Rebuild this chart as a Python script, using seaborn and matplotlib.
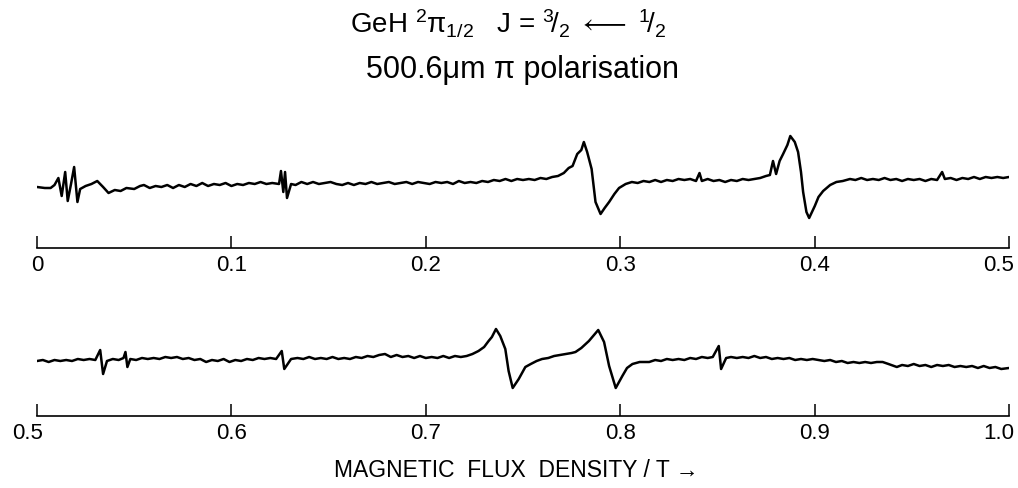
import matplotlib
matplotlib.use("Agg")
import matplotlib.pyplot as plt
import matplotlib.transforms as mtransforms
import seaborn as sns
import numpy as np

# trace 1: 0 - 0.5 T (signal in arbitrary units, baseline ~0)
top_field = [
    0.000, 0.004, 0.007, 0.009, 0.011, 0.0127, 0.0145, 0.0158, 0.0175, 0.0191,
    0.0208, 0.0222, 0.025, 0.028, 0.031, 0.034, 0.0368, 0.040, 0.043, 0.046,
    0.050, 0.053, 0.055, 0.058, 0.061, 0.064, 0.067, 0.070, 0.073, 0.076,
    0.079, 0.082, 0.085, 0.088, 0.091, 0.094, 0.097, 0.100, 0.103, 0.106,
    0.109, 0.112, 0.115, 0.118, 0.121, 0.1245, 0.1255, 0.1267, 0.1276, 0.1286,
    0.1307, 0.133, 0.136, 0.139, 0.142, 0.145, 0.148, 0.151, 0.154, 0.157,
    0.160, 0.163, 0.166, 0.169, 0.172, 0.175, 0.178, 0.181, 0.184, 0.187,
    0.190, 0.193, 0.196, 0.199, 0.202, 0.205, 0.208, 0.211, 0.214, 0.217,
    0.220, 0.223, 0.226, 0.229, 0.232, 0.235, 0.238, 0.241, 0.244, 0.247,
    0.250, 0.253, 0.256, 0.259, 0.262, 0.265, 0.268, 0.271, 0.2735, 0.2755,
    0.2779, 0.2800, 0.2813, 0.283, 0.2853, 0.2873, 0.2899, 0.292, 0.2943, 0.297,
    0.2994, 0.3028, 0.306, 0.309, 0.312, 0.315, 0.318, 0.321, 0.324, 0.327,
    0.330, 0.333, 0.336, 0.339, 0.3408, 0.342, 0.345, 0.348, 0.351, 0.354,
    0.357, 0.360, 0.363, 0.366, 0.369, 0.372, 0.375, 0.377, 0.3786, 0.3802,
    0.382, 0.3838, 0.3860, 0.3875, 0.3898, 0.3915, 0.393, 0.3941, 0.3958, 0.3972,
    0.4001, 0.402, 0.4044, 0.408, 0.4112, 0.4145, 0.4182, 0.421, 0.424, 0.427,
    0.430, 0.433, 0.436, 0.439, 0.442, 0.445, 0.448, 0.451, 0.454, 0.457,
    0.460, 0.463, 0.4656, 0.467, 0.470, 0.473, 0.476, 0.479, 0.482, 0.485,
    0.488, 0.491, 0.494, 0.497, 0.500,
]
top_signal = [
    0, -1, -1, 2, 9, -9, 15, -14, 3, 20,
    -15, -2, 1, 3, 6, 0, -6, -3, -4, -1,
    -2, 1, 2, -1, 1, 0, 2, -1, 2, 0,
    3, 1, 4, 1, 3, 2, 4, 1, 3, 2,
    4, 3, 5, 3, 4, 3, 16, -5, 15, -11,
    3, 2, 5, 3, 5, 3, 4, 5, 3, 2,
    4, 2, 4, 3, 5, 3, 4, 5, 3, 4,
    5, 3, 5, 4, 3, 5, 4, 5, 3, 6,
    4, 5, 4, 6, 5, 7, 6, 8, 6, 8,
    7, 8, 7, 9, 8, 10, 11, 14, 19, 21,
    33, 37, 45, 35, 18, -15, -27, -21, -15, -7,
    -1, 3, 5, 4, 6, 5, 7, 5, 7, 6,
    8, 7, 8, 6, 14, 6, 8, 6, 7, 5,
    7, 6, 8, 7, 8, 9, 11, 12, 26, 13,
    26, 33, 42, 51, 45, 35, 15, -5, -25, -31,
    -19, -10, -4, 2, 5, 6, 8, 7, 9, 7,
    8, 7, 9, 7, 8, 6, 8, 7, 8, 6,
    8, 7, 15, 8, 9, 7, 9, 8, 10, 8,
    10, 9, 10, 9, 10,
]

# trace 2: 0.5 - 1.0 T
bottom_field = [
    0.500, 0.503, 0.506, 0.509, 0.512, 0.515, 0.518, 0.521, 0.524, 0.527,
    0.530, 0.5325, 0.534, 0.536, 0.539, 0.542, 0.5445, 0.5455, 0.5465, 0.548,
    0.551, 0.554, 0.557, 0.560, 0.563, 0.566, 0.569, 0.572, 0.575, 0.578,
    0.581, 0.584, 0.587, 0.590, 0.593, 0.596, 0.599, 0.602, 0.605, 0.608,
    0.611, 0.614, 0.617, 0.620, 0.623, 0.6259, 0.6272, 0.6307, 0.634, 0.637,
    0.640, 0.643, 0.646, 0.649, 0.652, 0.655, 0.658, 0.661, 0.664, 0.667,
    0.670, 0.673, 0.676, 0.679, 0.682, 0.685, 0.688, 0.691, 0.694, 0.697,
    0.700, 0.703, 0.706, 0.709, 0.712, 0.715, 0.718, 0.721, 0.724, 0.7271,
    0.730, 0.7323, 0.734, 0.7361, 0.7383, 0.7409, 0.7426, 0.7447, 0.7478, 0.7512,
    0.754, 0.757, 0.7598, 0.763, 0.766, 0.769, 0.772, 0.775, 0.777, 0.780,
    0.7839, 0.7865, 0.7887, 0.7917, 0.7943, 0.7977, 0.8011, 0.8035, 0.8063, 0.810,
    0.8149, 0.818, 0.821, 0.824, 0.827, 0.830, 0.833, 0.836, 0.839, 0.842,
    0.845, 0.8476, 0.8507, 0.8519, 0.8545, 0.857, 0.860, 0.863, 0.866, 0.869,
    0.872, 0.875, 0.878, 0.881, 0.884, 0.887, 0.890, 0.893, 0.896, 0.899,
    0.902, 0.905, 0.908, 0.911, 0.914, 0.917, 0.920, 0.923, 0.926, 0.929,
    0.932, 0.935, 0.938, 0.9423, 0.945, 0.948, 0.951, 0.954, 0.957, 0.960,
    0.963, 0.966, 0.969, 0.972, 0.975, 0.978, 0.981, 0.984, 0.987, 0.990,
    0.993, 0.996, 1.000,
]
bottom_signal = [
    0, 1, -1, 1, 0, 1, 0, 2, 1, 2,
    1, 11, -13, 0, 2, 1, 3, 9, -6, 2,
    1, 3, 2, 3, 2, 4, 3, 4, 2, 3,
    1, 2, -1, 1, 0, 2, -1, 1, 0, 2,
    1, 3, 2, 3, 2, 10, -8, 2, 3, 2,
    4, 2, 3, 2, 4, 2, 3, 2, 4, 3,
    5, 4, 6, 7, 4, 6, 4, 5, 3, 5,
    3, 4, 3, 5, 3, 5, 4, 5, 7, 10,
    14, 20, 24, 32, 25, 12, -10, -27, -18, -6,
    -3, 0, 2, 3, 5, 6, 7, 8, 9, 13,
    20, 26, 31, 19, -5, -27, -15, -7, -3, -1,
    -1, 1, 0, 2, 1, 2, 1, 3, 2, 4,
    3, 4, 15, -8, 3, 4, 3, 4, 3, 5,
    3, 4, 2, 3, 2, 3, 1, 2, 1, 2,
    1, 0, 1, -1, 0, -2, -1, -2, -1, -2,
    -1, -1, -3, -6, -4, -5, -3, -5, -4, -6,
    -4, -5, -4, -6, -5, -6, -5, -7, -5, -7,
    -6, -8, -7,
]

top_ticks = [0.0, 0.1, 0.2, 0.3, 0.4, 0.5]
top_labels = ["0", "0.1", "0.2", "0.3", "0.4", "0.5"]
bottom_ticks = [0.5, 0.6, 0.7, 0.8, 0.9, 1.0]
bottom_labels = ["0.5", "0.6", "0.7", "0.8", "0.9", "1.0"]

sns.set_theme(style="white")
plt.rcParams["font.family"] = ["Liberation Sans", "DejaVu Sans"]
plt.rcParams["mathtext.fontset"] = "custom"
plt.rcParams["mathtext.rm"] = "Liberation Sans"
plt.rcParams["mathtext.it"] = "Liberation Sans:italic"
plt.rcParams["mathtext.fallback"] = "stixsans"

W, H = 1018, 489
fig = plt.figure(figsize=(W / 100, H / 100), dpi=100)


def panel(px_left, px_right, px_top, px_axis, ylim, field, signal, ticks, labels, xlim):
    ax = fig.add_axes([px_left / W, 1 - px_axis / H,
                       (px_right - px_left) / W, (px_axis - px_top) / H])
    sns.lineplot(x=field, y=signal, ax=ax, color="black", linewidth=1.8)
    ax.set_xlim(*xlim)
    ax.set_ylim(*ylim)
    for s in ["top", "left", "right"]:
        ax.spines[s].set_visible(False)
    ax.spines["bottom"].set_color("black")
    ax.spines["bottom"].set_linewidth(1.2)
    ax.set_yticks([])
    ax.set_xticks(ticks)
    ax.set_xticklabels(labels)
    ax.tick_params(axis="x", direction="in", length=9, width=1.1, color="black",
                   bottom=True, pad=4, labelsize=16, labelcolor="black")
    # end labels sit slightly inward, as in the original
    lbls = ax.get_xticklabels()
    lbls[-1].set_horizontalalignment("right")
    lbls[-1].set_transform(lbls[-1].get_transform() +
                           mtransforms.ScaledTranslation(5 / 100, 0, fig.dpi_scale_trans))
    ax.set_xlabel("")
    ax.set_ylabel("")
    ax.patch.set_alpha(0)
    return ax


ax1 = panel(37, 1009, 120, 249, (-61, 68), top_field, top_signal,
            top_ticks, top_labels, (0.0, 0.5))
ax2 = panel(37, 1009, 300, 417, (-55, 62), bottom_field, bottom_signal,
            bottom_ticks, bottom_labels, (0.5, 1.0))
first = ax2.get_xticklabels()[0]
first.set_transform(first.get_transform() +
                    mtransforms.ScaledTranslation(-9 / 100, 0, fig.dpi_scale_trans))

fig.text(508 / W, 1 - 33 / H,
         r"GeH $^{2}\mathrm{\pi}_{1/2}$   J = $^{3}\!/_{2}$ $\longleftarrow$ $^{1}\!/_{2}$",
         ha="center", va="baseline", fontsize=20, color="black")
fig.text(523 / W, 1 - 78 / H, "500.6\u03bcm \u03c0 polarisation",
         ha="center", va="baseline", fontsize=22, color="black")
fig.text(516 / W, 1 - 477 / H, "MAGNETIC  FLUX  DENSITY / T \u2192",
         ha="center", va="baseline", fontsize=16.5, color="black")

fig.savefig("out.png", dpi=100)
